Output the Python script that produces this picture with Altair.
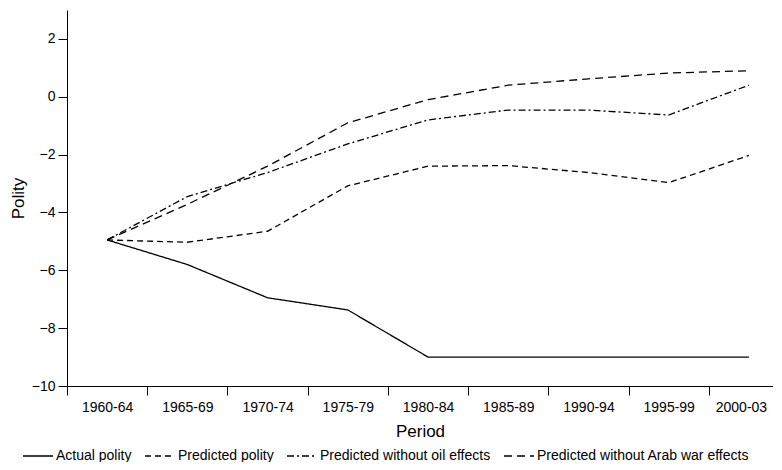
import altair as alt
import pandas as pd

periods = ["1960-64", "1965-69", "1970-74", "1975-79", "1980-84",
           "1985-89", "1990-94", "1995-99", "2000-03"]
series_names = ["Actual polity", "Predicted polity",
                "Predicted without oil effects", "Predicted without Arab war effects"]
actual = [-4.95, -5.8, -6.95, -7.37, -9.0, -9.0, -9.0, -9.0, -9.0]
predicted = [-4.95, -5.03, -4.65, -3.08, -2.4, -2.38, -2.62, -2.97, -2.03]
no_oil = [-4.95, -3.45, -2.62, -1.63, -0.8, -0.46, -0.46, -0.63, 0.4]
no_war = [-4.95, -3.72, -2.4, -0.9, -0.1, 0.4, 0.62, 0.82, 0.9]
y_ticks = [-10, -8, -6, -4, -2, 0, 2]

rows = []
for name, vals in zip(series_names, [actual, predicted, no_oil, no_war]):
    for i, v in enumerate(vals):
        rows.append({"idx": i, "period": periods[i], "series": name, "polity": v})
df = pd.DataFrame(rows)

W, H = 706, 376
x_min, x_max = -0.5, 8.3
step = W / (x_max - x_min)
last = len(periods) - 1

label_expr = "[" + ",".join("'%s'" % p for p in periods) + "][datum.value]"

chart = alt.Chart(df).mark_line(strokeWidth=1.3, color="black").encode(
    x=alt.X("idx:Q",
            scale=alt.Scale(domain=[x_min, x_max], nice=False, zero=False),
            axis=alt.Axis(values=list(range(len(periods))), labelExpr=label_expr,
                          title="Period", tickOffset=-step / 2,
                          labelOffset={"condition": {"test": "datum.value == %d" % last,
                                                     "value": step / 2 - 8},
                                       "value": step / 2},
                          labelFlush=False, labelOverlap=False, grid=False,
                          tickSize=9, labelPadding=5, titlePadding=9)),
    y=alt.Y("polity:Q",
            scale=alt.Scale(domain=[-10, 3], nice=False, zero=False),
            axis=alt.Axis(values=y_ticks, title="Polity", grid=False,
                          tickSize=9, labelPadding=3, titlePadding=4)),
    strokeDash=alt.StrokeDash(
        "series:N",
        scale=alt.Scale(domain=series_names,
                        range=[[1, 0], [6, 4], [7, 3, 2, 3], [8, 5]]),
        legend=alt.Legend(title=None, orient="none", legendX=-45, legendY=430,
                          direction="horizontal", symbolType="stroke",
                          symbolSize=900, symbolStrokeWidth=1.3,
                          symbolStrokeColor="black",
                          labelFontSize=14, labelOffset=2, columnPadding=10,
                          padding=0, labelColor="black", labelLimit=400)),
    detail="series:N",
    order="idx:Q",
).properties(
    width=W, height=H,
    autosize=alt.AutoSizeParams(type="none"),
    padding={"left": 59, "top": 2, "right": 0, "bottom": 76},
).configure_view(
    stroke=None
).configure_axis(
    labelFont="Liberation Sans", titleFont="Liberation Sans",
    labelFontSize=14, titleFontSize=17, titleFontWeight="normal",
    labelColor="black", titleColor="black",
    domainColor="black", tickColor="black", domainWidth=1, tickWidth=1,
).configure_legend(
    labelFont="Liberation Sans"
)

chart.save("out.html", embed_options={"renderer": "svg", "actions": False})
